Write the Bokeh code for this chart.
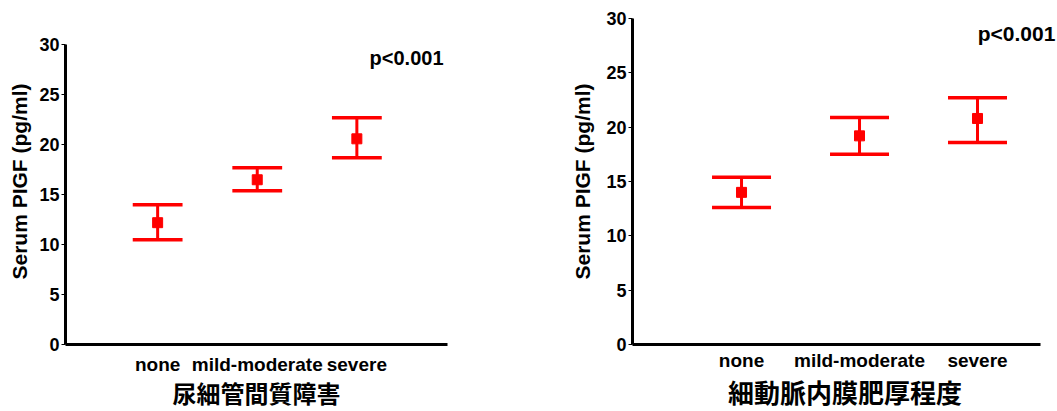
from bokeh.plotting import figure
from bokeh.layouts import row
from bokeh.models import ColumnDataSource, FixedTicker, Label, Range1d
from bokeh.embed import file_html
from bokeh.resources import INLINE

categories = ["none", "mild-moderate", "severe"]
y_ticks = [0, 5, 10, 15, 20, 25, 30]
y_label = "Serum PIGF (pg/ml)"
p_text = "p<0.001"

left_title = "尿細管間質障害"
left_mean = [12.2, 16.5, 20.6]
left_lower = [10.5, 15.4, 18.7]
left_upper = [14.0, 17.7, 22.7]

right_title = "細動脈内膜肥厚程度"
right_mean = [14.0, 19.2, 20.8]
right_lower = [12.6, 17.5, 18.6]
right_upper = [15.4, 20.9, 22.7]

RED = "#ff0000"
LATIN = "Liberation Sans"
CJK = "Liberation Sans, Noto Sans CJK JP"


def make_panel(title, mean, lower, upper, width, borders, x_rng, x_bounds, y_end,
               p_pos, fs, ylab_standoff, xlab_standoff, xtitle_standoff):
    bl, br, bt, bb = borders
    f_tick, f_cat, f_ylab, f_title, f_p = fs
    xs = [i + 1 for i in range(len(categories))]
    half = 0.25
    src = ColumnDataSource(dict(
        x=xs, mean=mean, lower=lower, upper=upper,
        x0=[x - half for x in xs], x1=[x + half for x in xs]))
    p = figure(width=width, height=411, output_backend="svg", toolbar_location=None,
               title=None,
               x_range=Range1d(*x_rng), y_range=Range1d(0, y_end),
               min_border_left=bl, min_border_right=br,
               min_border_top=bt, min_border_bottom=bb)
    p.outline_line_color = None
    p.grid.visible = False
    p.background_fill_color = "white"
    p.border_fill_color = "white"

    p.segment(x0="x", y0="lower", x1="x", y1="upper", source=src,
              line_color=RED, line_width=3)
    p.segment(x0="x0", y0="upper", x1="x1", y1="upper", source=src,
              line_color=RED, line_width=3.5)
    p.segment(x0="x0", y0="lower", x1="x1", y1="lower", source=src,
              line_color=RED, line_width=3.5)
    p.scatter(x="x", y="mean", source=src, marker="square", size=10,
              fill_color=RED, line_color=RED)

    ya = p.yaxis[0]
    ya.ticker = FixedTicker(ticks=y_ticks)
    ya.bounds = (y_ticks[0], y_ticks[-1])
    ya.axis_line_width = 3
    ya.axis_line_color = "black"
    ya.major_tick_out = 4
    ya.major_tick_in = 0
    ya.major_tick_line_width = 1
    ya.minor_tick_out = 0
    ya.minor_tick_in = 0
    ya.major_label_text_font = LATIN
    ya.major_label_text_font_style = "bold"
    ya.major_label_text_font_size = f_tick
    ya.major_label_text_color = "black"
    ya.major_label_standoff = 2
    ya.axis_label = y_label
    ya.axis_label_text_font = LATIN
    ya.axis_label_text_font_style = "bold"
    ya.axis_label_text_font_size = f_ylab
    ya.axis_label_text_color = "black"
    ya.axis_label_standoff = ylab_standoff

    xa = p.xaxis[0]
    xa.ticker = FixedTicker(ticks=xs)
    xa.bounds = x_bounds
    xa.major_label_overrides = {x: c for x, c in zip(xs, categories)}
    xa.axis_line_width = 3
    xa.axis_line_color = "black"
    xa.major_tick_out = 0
    xa.major_tick_in = 0
    xa.minor_tick_out = 0
    xa.minor_tick_in = 0
    xa.major_label_text_font = LATIN
    xa.major_label_text_font_style = "bold"
    xa.major_label_text_font_size = f_cat
    xa.major_label_text_color = "black"
    xa.major_label_standoff = xlab_standoff
    xa.axis_label = title
    xa.axis_label_text_font = CJK
    xa.axis_label_text_font_style = "bold"
    xa.axis_label_text_font_size = f_title
    xa.axis_label_text_color = "black"
    xa.axis_label_standoff = xtitle_standoff

    p.add_layout(Label(x=p_pos[0], y=p_pos[1], text=p_text, text_align="right",
                       text_baseline="middle", text_font=LATIN,
                       text_font_style="bold", text_font_size=f_p,
                       text_color="black"))
    return p


left = make_panel(left_title, left_mean, left_lower, left_upper, 545,
                  (65, 98, 18, 61), (0.075, 3.91), (0.075, 3.91), 32.65,
                  (3.87, 28.7),
                  ("18px", "19px", "21px", "24px", "20px"), 5, 9, 3)
right = make_panel(right_title, right_mean, right_lower, right_upper, 512,
                   (87, 0, 18, 61), (0.076, 3.678), (0.076, 3.534), 30,
                   (3.66, 28.6),
                   ("18px", "19px", "21px", "26px", "21px"), 9, 5, 5)

layout = row(left, right, spacing=0)
open("out.html", "w").write(file_html(layout, INLINE))
